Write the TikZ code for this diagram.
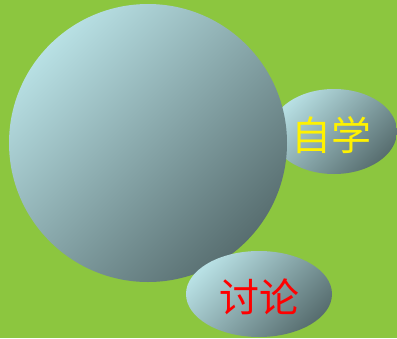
\documentclass[tikz,border=0pt]{standalone}
\usepackage{fontspec}
\newfontfamily\cjk{Noto Sans CJK SC}
\definecolor{bggreen}{RGB}{140,198,63}
\definecolor{balllight}{RGB}{184,224,228}
\definecolor{balldark}{RGB}{88,110,112}
\tikzset{ball/.style={top color=balllight, bottom color=balldark, shading angle=45}}

\begin{document}
\begin{tikzpicture}[x=1pt, y=-1pt]
				%%%%% START %%%%%
				\fill[bggreen] (0, 0) rectangle (397, 338);
				\useasboundingbox (0, 0) rectangle (397, 338);
				
				\shade[ball] (334, 131.5) ellipse (63 and 42.5);
				\node[text=yellow, font=\cjk\fontsize{40}{40}\selectfont] (zixue) at (331, 135) {自学};
				
				\shade[ball] (148, 143) circle (139);
				
				\shade[ball] (259, 294) ellipse (73 and 43);
				\node[text=red, font=\cjk\fontsize{40}{40}\selectfont] (taolun) at (259, 297) {讨论};
				%%%%% END %%%%%
			\end{tikzpicture}
\end{document}
